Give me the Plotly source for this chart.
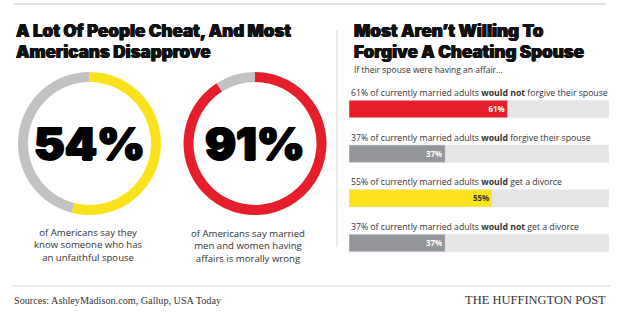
import plotly.graph_objects as go

W, H = 620, 324

# ---- data ----
donut_values = [54, 91]
donut_colors = ["#fbe21d", "#e61e2a"]
donut_captions = [
    "of Americans say they<br>know someone who has<br>an unfaithful spouse",
    "of Americans say married<br>men and women having<br>affairs is morally wrong",
]
bar_keys = ["not_forgive", "forgive", "divorce", "no_divorce"]
bar_values = [61, 37, 55, 37]
bar_colors = ["#e61e2a", "#939598", "#fbe21d", "#939598"]
bar_text_colors = ["#ffffff", "#ffffff", "#333333", "#ffffff"]
bar_labels = [
    "61% of currently married adults <b>would not</b> forgive their spouse",
    "37% of currently married adults <b>would</b> forgive their spouse",
    "55% of currently married adults <b>would</b> get a divorce",
    "37% of currently married adults <b>would not</b> get a divorce",
]
track_max = 100

def px(x):
    return x / W

def py(y):
    return 1 - y / H

fig = go.Figure()

# ---- donuts ----
donut_boxes = [(17, 162), (183, 327)]
for v, c, (x0, x1) in zip(donut_values, donut_colors, donut_boxes):
    fig.add_trace(go.Pie(
        values=[v, 100 - v],
        marker=dict(colors=[c, "#c2c2c2"], line=dict(width=0)),
        sort=False, direction="clockwise", rotation=0,
        hole=0.86, textinfo="none", hoverinfo="skip", showlegend=False,
        domain=dict(x=[px(x0), px(x1)], y=[py(215), py(72)]),
    ))

# ---- bars ----
fig.add_trace(go.Bar(
    x=[track_max] * len(bar_keys), y=bar_keys, orientation="h",
    marker=dict(color="#e6e6e6"), width=0.39, hoverinfo="skip",
    showlegend=False, xaxis="x", yaxis="y",
))
fig.add_trace(go.Bar(
    x=bar_values, y=bar_keys, orientation="h",
    marker=dict(color=bar_colors), width=0.39,
    text=[f"<b>{v}%</b>" for v in bar_values], textposition="inside",
    insidetextanchor="end",
    textfont=dict(family="Open Sans", size=9, color=bar_text_colors),
    hoverinfo="skip", showlegend=False, xaxis="x", yaxis="y",
))

fig.update_layout(
    width=W, height=H, margin=dict(l=0, r=0, t=0, b=0),
    paper_bgcolor="white", plot_bgcolor="white",
    barmode="overlay",
    xaxis=dict(domain=[px(349), px(609)], range=[0, track_max],
               visible=False, fixedrange=True),
    yaxis=dict(domain=[py(265.3), py(86.7)], range=[3.5, -0.5],
               visible=False, fixedrange=True,
               categoryorder="array", categoryarray=bar_keys),
)

ann = []
heavy = "0.5px 0 0 #111111, -0.4px 0 0 #111111, 0 0.3px 0 #111111"
title_font = dict(family="Inter", size=17, color="#111111", weight=900, shadow=heavy)
for txt, x, y in [("A Lot Of People Cheat, And Most", 14, 31),
                  ("Americans Disapprove", 14, 52),
                  ("Most Aren’t Willing To", 352, 31),
                  ("Forgive A Cheating Spouse", 352, 52)]:
    ann.append(dict(text=txt, x=px(x), y=py(y), xref="paper", yref="paper",
                    xanchor="left", yanchor="middle", showarrow=False,
                    font=title_font))

ann.append(dict(text="If their spouse were having an affair...", x=px(352), y=py(70),
                xref="paper", yref="paper", xanchor="left", yanchor="middle",
                showarrow=False, font=dict(family="Open Sans", size=8.5, color="#333333")))

for k, lab in zip(bar_keys, bar_labels):
    ann.append(dict(text=lab, x=0, y=k, xref="x", yref="y", xanchor="left",
                    yanchor="middle", yshift=16, showarrow=False,
                    font=dict(family="Open Sans", size=8.7, color="#333333")))

# big numbers
centers = [89.5, 255]
big_heavy = "1px 0 0 #000, -1px 0 0 #000, 0 1px 0 #000"
for v, cx in zip(donut_values, centers):
    ann.append(dict(text=f"{v}%", x=px(cx), y=py(143), xref="paper", yref="paper",
                    xanchor="center", yanchor="middle", showarrow=False,
                    font=dict(family="Inter", size=46, color="#000000", weight=900,
                              shadow=big_heavy)))
for cap, cx, cy in zip(donut_captions, [88, 248], [245, 246]):
    ann.append(dict(text=cap, x=px(cx), y=py(cy), xref="paper", yref="paper",
                    xanchor="center", yanchor="middle", showarrow=False,
                    font=dict(family="Open Sans", size=9.6, color="#333333")))

ann.append(dict(text="Sources: AshleyMadison.com, Gallup, USA Today", x=px(12), y=py(300),
                xref="paper", yref="paper", xanchor="left", yanchor="middle",
                showarrow=False, font=dict(family="Liberation Serif", size=10.2, color="#333333")))
ann.append(dict(text="THE HUFFINGTON POST", x=px(608), y=py(300),
                xref="paper", yref="paper", xanchor="right", yanchor="middle",
                showarrow=False, font=dict(family="Liberation Serif", size=12.5, color="#333333")))

fig.update_layout(annotations=ann)

shapes = [
    dict(type="line", xref="paper", yref="paper", x0=px(14), x1=px(606), y0=py(4), y1=py(4),
         line=dict(color="#e3e3e3", width=2)),
    dict(type="line", xref="paper", yref="paper", x0=px(337), x1=px(337), y0=py(30), y1=py(247),
         line=dict(color="#e3e3e3", width=1.5)),
    dict(type="line", xref="paper", yref="paper", x0=px(12), x1=px(610), y0=py(286), y1=py(286),
         line=dict(color="#e3e3e3", width=1.5)),
]
fig.update_layout(shapes=shapes)

fig.write_html("out.html")
